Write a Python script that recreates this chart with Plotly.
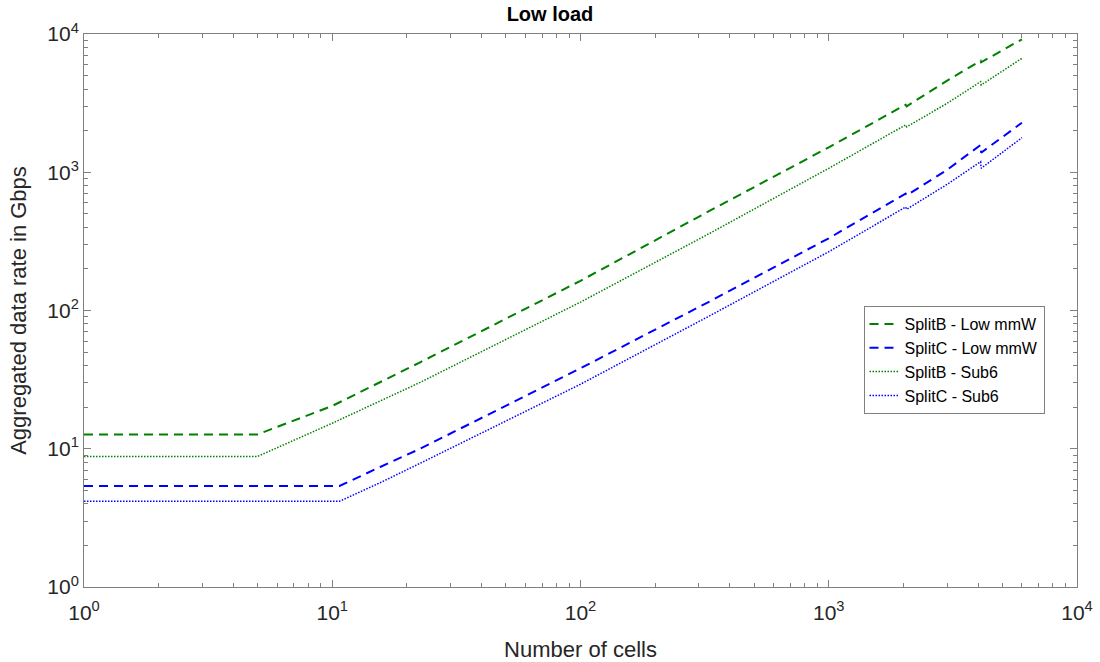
import plotly.graph_objects as go

# Number of cells (x) and aggregated data rate in Gbps (y)
x_green = [1, 5, 10, 22.6, 100, 332, 1000, 2040, 2060, 3000, 4090, 4110, 6000]
splitB_mmw = [12.7, 12.7, 20.4, 42.2, 164, 527, 1515, 3080, 3000, 4600, 6410, 6240, 9160]
splitB_sub6 = [8.8, 8.8, 15.3, 30.2, 115, 362, 1068, 2200, 2130, 3155, 4520, 4275, 6670]

x_blue = [1, 10.7, 15.6, 22.6, 100, 332, 1000, 2040, 2060, 3000, 4090, 4110, 6000]
splitC_mmw = [5.38, 5.38, 7.38, 10.0, 38.2, 116.5, 333, 700, 680, 1043, 1574, 1385, 2281]
splitC_sub6 = [4.17, 4.17, 5.68, 7.85, 29.3, 91.7, 266, 560, 540, 818, 1192, 1068, 1778]

series_names = ["SplitB - Low mmW", "SplitC - Low mmW", "SplitB - Sub6", "SplitC - Sub6"]

GREEN = "#008000"
BLUE = "#0000FF"
AX = "#808080"
TXT = "#262626"
FONT = "Arial, Liberation Sans, Helvetica, sans-serif"

fig = go.Figure()
fig.add_trace(go.Scatter(x=x_green, y=splitB_mmw, mode="lines", name=series_names[0],
                         line=dict(color=GREEN, width=2, dash="9px,6px")))
fig.add_trace(go.Scatter(x=x_blue, y=splitC_mmw, mode="lines", name=series_names[1],
                         line=dict(color=BLUE, width=2, dash="9px,6px")))
fig.add_trace(go.Scatter(x=x_green, y=splitB_sub6, mode="lines", name=series_names[2],
                         line=dict(color=GREEN, width=1.5, dash="1.5px,1.5px")))
fig.add_trace(go.Scatter(x=x_blue, y=splitC_sub6, mode="lines", name=series_names[3],
                         line=dict(color=BLUE, width=1.5, dash="1.5px,1.5px")))

xt_vals = [1, 10, 100, 1000, 10000]
xt_text = ["10<sup>0</sup>", "10<sup>1</sup>", "10<sup>2</sup>", "10<sup>3</sup>", "10<sup>4</sup>"]
yt_vals = [1, 10, 100, 1000, 10000]
yt_text = xt_text

axis_common = dict(
    type="log", showgrid=False, zeroline=False, automargin=False,
    showline=True, linecolor=AX, linewidth=1, mirror="ticks",
    ticks="inside", ticklen=7, tickcolor=AX, tickwidth=1,
    tickfont=dict(family=FONT, size=21, color=TXT),
    minor=dict(ticks="inside", ticklen=4, tickcolor=AX, tickwidth=1,
               dtick="D1", showgrid=False),
)

fig.update_xaxes(range=[0, 4], tickvals=xt_vals, ticktext=xt_text, ticklabelstandoff=7,
                 title=dict(text="Number of cells", font=dict(family=FONT, size=22, color=TXT), standoff=26),
                 **axis_common)
fig.update_yaxes(range=[0, 4], tickvals=yt_vals, ticktext=yt_text,
                 title=dict(text="Aggregated data rate in Gbps", font=dict(family=FONT, size=22, color=TXT), standoff=14),
                 **axis_common)

fig.update_layout(
    width=1100, height=662,
    margin=dict(l=84, r=23, t=34, b=75),
    paper_bgcolor="white", plot_bgcolor="white",
    title=dict(text="<b>Low load</b>", x=0.5, xanchor="center", y=0.99, yanchor="top",
               font=dict(family=FONT, size=20, color="black")),
    font=dict(family=FONT, color=TXT),
    legend=dict(x=0.785, y=0.508, xanchor="left", yanchor="top",
                bgcolor="white", bordercolor=AX, borderwidth=1,
                font=dict(family=FONT, size=16, color="black"),
                tracegroupgap=0, itemwidth=30),
    showlegend=True,
)

fig.write_html("out.html")
